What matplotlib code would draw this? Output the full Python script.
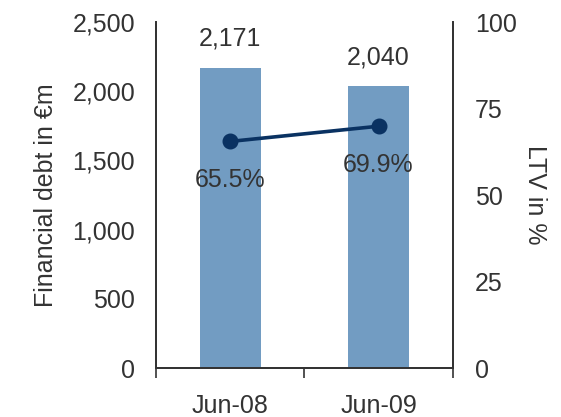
import matplotlib
matplotlib.use("Agg")
import matplotlib.pyplot as plt
from matplotlib.ticker import FuncFormatter

plt.rcParams['font.family'] = ['Liberation Sans', 'DejaVu Sans']

categories = ["Jun-08", "Jun-09"]
debt = [2171, 2040]
ltv = [65.5, 69.9]
debt_ticks = [0, 500, 1000, 1500, 2000, 2500]
ltv_ticks = [0, 25, 50, 75, 100]

text_color = "#333333"
bar_color = "#729cc2"
line_color = "#0a3262"
fs = 18

fig = plt.figure(figsize=(5.61, 4.17), dpi=100)
ax = fig.add_axes([0.278, 0.1175, 0.529, 0.8295])
x = list(range(len(categories)))

ax.bar(x, debt, width=0.41, color=bar_color, zorder=2)
ax.set_xlim(-0.5, 1.5)
ax.set_ylim(0, 2500)
ax.set_yticks(debt_ticks)
ax.yaxis.set_major_formatter(FuncFormatter(lambda v, p: f"{int(v):,}"))
ax.tick_params(axis='y', length=0, pad=15, labelsize=fs, labelcolor=text_color)
ax.set_xticks(x)
ax.set_xticklabels(categories)
ax.set_xticks([-0.5, 0.5, 1.5], minor=True)
ax.tick_params(axis='x', which='major', length=0, pad=19, labelsize=fs, labelcolor=text_color)
ax.tick_params(axis='x', which='minor', length=7, width=1.2, color="#333333", direction='out')
ax.set_ylabel("Financial debt in €m", fontsize=fs, color=text_color, labelpad=10)
ax.spines["top"].set_visible(False)
for side in ["left", "bottom", "right"]:
    ax.spines[side].set_color("#333333")
    ax.spines[side].set_linewidth(1.3)

for xi, v in zip(x, debt):
    ax.annotate(f"{v:,}", (xi, v), xytext=(0, 12), textcoords="offset points",
                ha="center", va="bottom", fontsize=fs, color=text_color)

ax2 = ax.twinx()
ax2.plot(x, ltv, color=line_color, lw=2.6, marker='o', markersize=10.5, zorder=3)
ax2.set_ylim(0, 100)
ax2.set_yticks(ltv_ticks)
ax2.tick_params(axis='y', length=0, pad=16, labelsize=fs, labelcolor=text_color)
ax2.set_ylabel("LTV in %", fontsize=fs, color=text_color, rotation=270, labelpad=22)
ax2.spines["top"].set_visible(False)
for side in ["left", "bottom", "right"]:
    ax2.spines[side].set_color("#333333")
    ax2.spines[side].set_linewidth(1.3)

for xi, v in zip(x, ltv):
    ax2.annotate(f"{v}%", (xi, v), xytext=(0, -19), textcoords="offset points",
                 ha="center", va="top", fontsize=fs, color=text_color)

fig.savefig("out.png", dpi=100)
